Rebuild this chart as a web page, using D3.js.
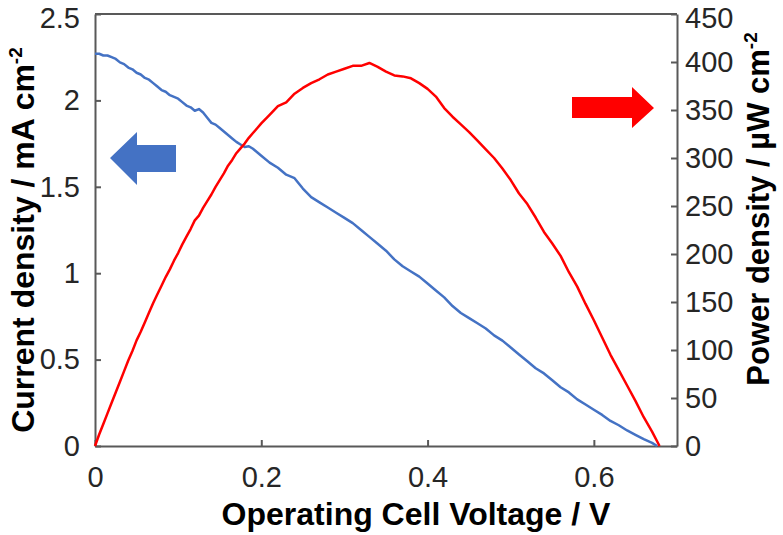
<!DOCTYPE html>
<html>
<head>
<meta charset="utf-8">
<script src="https://cdn.jsdelivr.net/npm/d3@7"></script>
<style>
  html, body { margin: 0; padding: 0; background: #fff; }
  svg { display: block; }
  text { font-family: Arial, "Liberation Sans", sans-serif; }
</style>
</head>
<body>
<svg id="chart" width="783" height="535"></svg>
<script>
// ---- Data ----
const voltage = [0.00,0.005,0.01,0.015,0.02,0.025,0.03,0.035,0.04,0.045,0.05,0.055,0.06,0.065,0.07,0.075,0.08,0.085,0.09,0.095,
  0.10,0.105,0.11,0.115,0.12,0.125,0.13,0.135,0.14,0.145,0.15,0.155,0.16,0.165,0.17,0.175,0.18,0.185,0.19,0.195,
  0.20,0.21,0.22,0.23,0.24,0.25,0.26,0.27,0.28,0.29,0.30,0.31,0.32,0.33,0.34,0.35,0.36,0.37,0.38,0.39,
  0.40,0.41,0.42,0.43,0.44,0.45,0.46,0.47,0.48,0.49,0.50,0.51,0.52,0.53,0.54,0.55,0.56,0.57,0.58,0.59,
  0.60,0.61,0.62,0.63,0.64,0.65,0.66,0.67];
const currentDensity = [2.27,2.27,2.26,2.26,2.25,2.24,2.22,2.21,2.19,2.18,2.16,2.15,2.13,2.12,2.10,2.08,2.06,2.05,2.03,2.02,
  2.01,1.99,1.97,1.96,1.94,1.95,1.93,1.90,1.87,1.86,1.84,1.82,1.80,1.78,1.76,1.745,1.73,1.735,1.72,1.70,
  1.68,1.64,1.61,1.57,1.55,1.49,1.44,1.41,1.38,1.35,1.32,1.29,1.25,1.21,1.17,1.13,1.08,1.04,1.01,0.98,
  0.94,0.90,0.86,0.81,0.77,0.74,0.71,0.68,0.64,0.61,0.57,0.53,0.49,0.45,0.42,0.38,0.34,0.31,0.27,0.24,
  0.21,0.18,0.145,0.12,0.09,0.065,0.04,0.018];
const currentEnd = [0.676, 0];
const powerDensity = [0,12,23,34,45,56,67,78,89,99,110,119,129,139,149,158,167,176,184,193,
  201,210,218,226,235,240,248,255,262,270,277,284,292,298,305,310,315,321,326,331,
  336,345,354,358,367,373,378,382,387,390,393,396,396,399,395,390,386,385,383,378,
  372,364,352,343,335,327,318,309,300,289,277,263,252,238,223,211,198,181,166,148,
  131,113,95,79,63,47,30,15];
const powerEnd = [0.679, 0];

const xTicks = [0, 0.2, 0.4, 0.6];
const yLeftTicks = [0, 0.5, 1, 1.5, 2, 2.5];
const yRightTicks = [0, 50, 100, 150, 200, 250, 300, 350, 400, 450];

// ---- Layout ----
const W = 783, H = 535;
const m = {left: 95, right: 106, top: 14, bottom: 89};
const iw = W - m.left - m.right, ih = H - m.top - m.bottom;

const svg = d3.select("#chart");
const g = svg.append("g").attr("transform", `translate(${m.left},${m.top})`);

const x = d3.scaleLinear().domain([0, 0.7]).range([0, iw]);
const yL = d3.scaleLinear().domain([0, 2.5]).range([ih, 0]);
const yR = d3.scaleLinear().domain([0, 450]).range([ih, 0]);

const axisColor = "#595959";
const tickFont = 29;

// top border
g.append("line").attr("x1", 0).attr("x2", iw).attr("y1", 0).attr("y2", 0)
  .attr("stroke", axisColor).attr("stroke-width", 2);

function styleAxis(sel) {
  sel.select(".domain").attr("stroke", axisColor).attr("stroke-width", 2);
  sel.selectAll(".tick line").attr("stroke", axisColor).attr("stroke-width", 2);
  sel.selectAll(".tick text").attr("fill", "#262626").style("font-size", tickFont + "px")
    .style("font-family", "Arial, 'Liberation Sans', sans-serif");
}

// bottom axis (ticks inside)
const xa = g.append("g").attr("transform", `translate(0,${ih})`)
  .call(d3.axisBottom(x).tickValues(xTicks).tickFormat(d => d === 0 ? "0" : d3.format(".1f")(d))
    .tickSizeInner(-6).tickSizeOuter(0).tickPadding(20));
styleAxis(xa);

// left axis
const yla = g.append("g")
  .call(d3.axisLeft(yL).tickValues(yLeftTicks).tickFormat(d => String(d))
    .tickSizeInner(-6).tickSizeOuter(0).tickPadding(15));
styleAxis(yla);

// right axis
const yra = g.append("g").attr("transform", `translate(${iw},0)`)
  .call(d3.axisRight(yR).tickValues(yRightTicks).tickFormat(d => String(d))
    .tickSizeInner(-6).tickSizeOuter(0).tickPadding(8));
styleAxis(yra);

// keep the top labels inside the picture
yla.selectAll(".tick text").filter(d => d === 2.5).attr("dy", "0.45em");
yra.selectAll(".tick text").filter(d => d === 450).attr("dy", "0.45em");

// ---- Lines ----
const curPts = voltage.map((v, i) => [v, currentDensity[i]]).concat([currentEnd]);
const powPts = voltage.map((v, i) => [v, powerDensity[i]]).concat([powerEnd]);

g.append("path").datum(curPts)
  .attr("fill", "none").attr("stroke", "#4472C4").attr("stroke-width", 2.5)
  .attr("stroke-linejoin", "round")
  .attr("d", d3.line().x(d => x(d[0])).y(d => yL(d[1])));

g.append("path").datum(powPts)
  .attr("fill", "none").attr("stroke", "#FF0000").attr("stroke-width", 2.5)
  .attr("stroke-linejoin", "round")
  .attr("d", d3.line().x(d => x(d[0])).y(d => yR(d[1])));

// ---- Arrows ----
g.append("path")
  .attr("d", "M15,144 L42,118 L42,131 L81,131 L81,158 L42,158 L42,171 Z")
  .attr("fill", "#4472C4");
g.append("path")
  .attr("d", "M477,83 L537,83 L537,73 L559,94 L537,114 L537,104 L477,104 Z")
  .attr("fill", "#FF0000");

// ---- Titles ----
svg.append("text")
  .attr("x", 416).attr("y", 525)
  .attr("text-anchor", "middle")
  .style("font-size", "32px").style("font-weight", "bold").attr("fill", "#000")
  .text("Operating Cell Voltage / V");

const lt = svg.append("text")
  .attr("transform", "translate(34,240) rotate(-90)")
  .attr("text-anchor", "middle")
  .style("font-size", "32px").style("font-weight", "bold").attr("fill", "#000");
lt.append("tspan").text("Current density / mA cm");
lt.append("tspan").attr("dy", -12).style("font-size", "19px").text("-2");

const rt = svg.append("text")
  .attr("transform", "translate(769,209) rotate(-90)")
  .attr("text-anchor", "middle")
  .style("font-size", "31px").style("font-weight", "bold").attr("fill", "#000");
rt.append("tspan").text("Power density / µW cm");
rt.append("tspan").attr("dy", -12).style("font-size", "19px").text("-2");
</script>
</body>
</html>
